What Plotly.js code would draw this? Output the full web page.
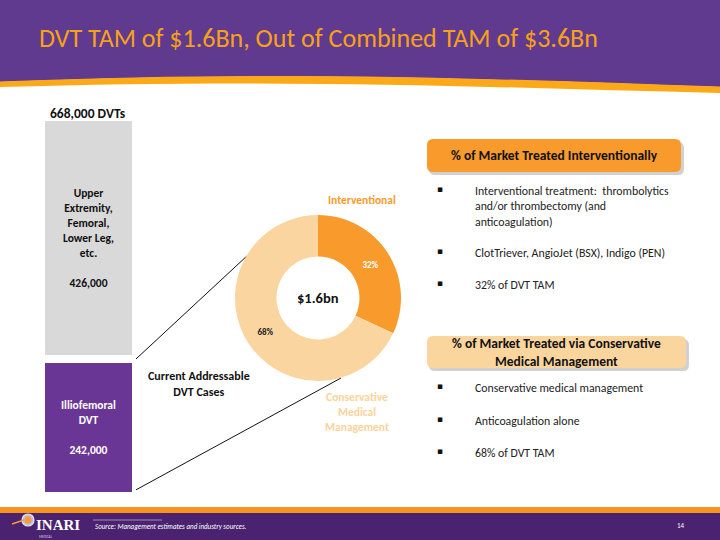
<!DOCTYPE html>
<html><head><meta charset="utf-8">
<script src="https://cdn.plot.ly/plotly-3.0.1.min.js"></script>
<style>html,body{margin:0;padding:0;background:#fff}#chart{width:720px;height:540px}</style>
</head><body><div id="chart"></div>
<script>
// ---- data ----
const segmentLabels = ['Illiofemoral<br>DVT', 'Upper<br>Extremity,<br>Femoral,<br>Lower Leg,<br>etc.'];
const segmentCases = [242000, 426000];
const segmentColors = ['#6A3696', '#D9D9D9'];
const segmentTextColors = ['#FFFFFF', '#111111'];
const treatLabels = ['Interventional', 'Conservative<br>Medical<br>Management'];
const treatShares = [32, 68];
const treatColors = ['#F89B2C', '#FBD5A0'];
const tamLabel = '$1.6bn';
const titleText = 'DVT TAM of $1.6Bn, Out of Combined TAM of $3.6Bn';
const box1Title = '% of Market Treated Interventionally';
const box1Bullets = ['Interventional treatment:  thrombolytics<br>and/or thrombectomy (and<br>anticoagulation)', 'ClotTriever, AngioJet (BSX), Indigo (PEN)', '32% of DVT TAM'];
const box2Title = '% of Market Treated via Conservative<br>Medical Management';
const box2Bullets = ['Conservative medical management', 'Anticoagulation alone', '68% of DVT TAM'];
const sourceText = 'Source: Management estimates and industry sources.';
const pageNum = '14';

// ---- helpers ----
const W = 720, H = 540;
const px = x => x / W, py = y => 1 - y / H;
const P = (x, y) => px(x).toFixed(5) + ',' + py(y).toFixed(5);
const FONT = 'Carlito, Lato, sans-serif';
const fmt = v => v.toLocaleString('en-US');
function roundRect(x0, y0, x1, y1, r) {
  return 'M' + P(x0 + r, y0) + ' L' + P(x1 - r, y0) + ' Q' + P(x1, y0) + ' ' + P(x1, y0 + r) +
    ' L' + P(x1, y1 - r) + ' Q' + P(x1, y1) + ' ' + P(x1 - r, y1) +
    ' L' + P(x0 + r, y1) + ' Q' + P(x0, y1) + ' ' + P(x0, y1 - r) +
    ' L' + P(x0, y0 + r) + ' Q' + P(x0, y0) + ' ' + P(x0 + r, y0) + ' Z';
}

const total = segmentCases.reduce((a, b) => a + b, 0);
// bar axis geometry (pixels)
const barX0 = 41, barX1 = 136, barYTop = 117, barYBot = 496, gap = 4;
// pixel row where the purple bar's visible top sits (from the data split)
const splitPx = barYBot - (segmentCases[0] / total) * (barYBot - barYTop) + gap;

const traces = segmentCases.map((v, i) => ({
  type: 'bar', x: [0], y: [v], width: [1],
  marker: {color: segmentColors[i], line: {color: '#FFFFFF', width: 2 * gap}},
  text: [segmentLabels[i] + '<br><br>' + fmt(v)],
  textposition: 'inside', insidetextanchor: 'middle', constraintext: 'none',
  textfont: {family: FONT, size: 11.5, color: segmentTextColors[i], weight: 'bold'},
  hoverinfo: 'skip', showlegend: false, xaxis: 'x', yaxis: 'y'
}));

traces.push({
  type: 'pie', values: treatShares, labels: treatLabels, sort: false, direction: 'clockwise', rotation: 0,
  hole: 0.5, marker: {colors: treatColors},
  texttemplate: '%{percent:.0%}', textposition: 'inside', insidetextorientation: 'horizontal',
  textfont: {family: FONT, size: 9, color: ['#FFFFFF', '#222222'], weight: 'bold'},
  domain: {x: [px(235), px(401)], y: [py(381), py(215)]},
  hoverinfo: 'skip', showlegend: false
});

const shapes = [
  // header
  {type: 'path', xref: 'paper', yref: 'paper', layer: 'below', line: {width: 0}, fillcolor: '#5F3A8E',
   path: 'M' + P(0, 0) + ' L' + P(720, 0) + ' L' + P(720, 87) + ' C' + P(500, 80) + ' ' + P(300, 70) + ' ' + P(0, 82) + ' Z'},
  {type: 'path', xref: 'paper', yref: 'paper', layer: 'below', line: {width: 0}, fillcolor: '#FBA919',
   path: 'M' + P(0, 81.5) + ' C' + P(300, 69.5) + ' ' + P(500, 79.5) + ' ' + P(720, 86.5) + ' L' + P(720, 93) + ' C' + P(500, 88) + ' ' + P(300, 78) + ' ' + P(0, 87) + ' Z'},
  // footer
  {type: 'rect', xref: 'paper', yref: 'paper', layer: 'below', line: {width: 0}, fillcolor: '#F7941D',
   x0: 0, x1: 1, y0: py(513), y1: py(507)},
  {type: 'rect', xref: 'paper', yref: 'paper', layer: 'below', line: {width: 0}, fillcolor: '#4A2270',
   x0: 0, x1: 1, y0: 0, y1: py(513)},
  {type: 'line', xref: 'paper', yref: 'paper', line: {color: '#B9A6CF', width: 0.8},
   x0: px(93), x1: px(162), y0: py(520), y1: py(520)},
  // logo emblem
  {type: 'circle', xref: 'paper', yref: 'paper', line: {color: '#E9E2F0', width: 1.2}, fillcolor: '#C9B8DA',
   x0: px(22), x1: px(34), y0: py(526), y1: py(514)},
  {type: 'circle', xref: 'paper', yref: 'paper', line: {width: 0}, fillcolor: '#F29B3B',
   x0: px(24.5), x1: px(31.5), y0: py(523.5), y1: py(516.5)},
  {type: 'line', xref: 'paper', yref: 'paper', line: {color: '#F29B3B', width: 1.5},
   x0: px(12), x1: px(24), y0: py(524), y1: py(520)},
  // connector lines (from bar corners to donut)
  {type: 'line', xref: 'paper', yref: 'paper', layer: 'below', line: {color: '#111', width: 1},
   x0: px(barX1 - gap), y0: py(splitPx), x1: px(262), y1: py(242)},
  {type: 'line', xref: 'paper', yref: 'paper', layer: 'below', line: {color: '#111', width: 1},
   x0: px(barX1 - gap), y0: py(barYBot - gap), x1: px(341), y1: py(378)},
  // box shadows + boxes
  {type: 'path', xref: 'paper', yref: 'paper', layer: 'below', line: {width: 0}, fillcolor: 'rgba(0,0,0,0.18)',
   path: roundRect(429, 142, 684, 175, 6)},
  {type: 'path', xref: 'paper', yref: 'paper', layer: 'below', line: {width: 0}, fillcolor: '#F89B2C',
   path: roundRect(427, 139, 681, 172, 6)},
  {type: 'path', xref: 'paper', yref: 'paper', layer: 'below', line: {width: 0}, fillcolor: 'rgba(0,0,0,0.18)',
   path: roundRect(429, 339, 689, 371, 6)},
  {type: 'path', xref: 'paper', yref: 'paper', layer: 'below', line: {width: 0}, fillcolor: '#FBD59E',
   path: roundRect(427, 336, 686, 368, 6)}
];

const ann = (x, y, text, o) => Object.assign({xref: 'paper', yref: 'paper', x: px(x), y: py(y), text: text,
  xanchor: 'center', yanchor: 'middle',
  showarrow: false, font: {family: FONT, size: 11, color: '#222'}}, o || {});

const annotations = [
  ann(37, 38, titleText, {xanchor: 'left', font: {family: FONT, size: 26, color: '#F7A11A'}}),
  ann(88, 113, fmt(total) + ' DVTs', {font: {family: FONT, size: 13.5, color: '#111', weight: 'bold'}}),
  ann(199, 384, 'Current Addressable<br>DVT Cases', {font: {family: FONT, size: 12, color: '#111', weight: 'bold'}}),
  ann(318, 298, tamLabel, {font: {family: FONT, size: 14.5, color: '#111', weight: 'bold'}}),
  ann(362, 200, treatLabels[0], {font: {family: FONT, size: 11.5, color: treatColors[0], weight: 'bold'}}),
  ann(357, 412, treatLabels[1], {font: {family: FONT, size: 11.5, color: '#FBD39A', weight: 'bold'}}),
  ann(554, 156, box1Title, {font: {family: FONT, size: 13.5, color: '#111', weight: 'bold'}}),
  ann(556, 352, box2Title, {font: {family: FONT, size: 13.5, color: '#111', weight: 'bold'}}),
  ann(93, 526, sourceText, {xanchor: 'left', font: {family: FONT, size: 7, color: '#FFFFFF', style: 'italic'}}),
  ann(681, 525, pageNum, {font: {family: FONT, size: 7, color: '#FFFFFF'}}),
  ann(34, 524.5, 'INARI', {xanchor: 'left', font: {family: 'Liberation Serif, serif', size: 15, color: '#FFFFFF', weight: 'bold'}}),
  ann(37, 536.5, 'MEDICAL', {xanchor: 'left', font: {family: FONT, size: 3.5, color: '#D8CCE4'}})
];
const b1y = [182, 244, 276], b2y = [379, 412, 444];
box1Bullets.forEach((t, i) => {
  annotations.push(ann(440, b1y[i] + 7, '▪', {font: {family: 'DejaVu Sans', size: 9, color: '#111'}}));
  annotations.push(ann(473, b1y[i], t, {xanchor: 'left', yanchor: 'top', align: 'left', font: {family: FONT, size: 11.8, color: '#222'}}));
});
box2Bullets.forEach((t, i) => {
  annotations.push(ann(440, b2y[i] + 7, '▪', {font: {family: 'DejaVu Sans', size: 9, color: '#111'}}));
  annotations.push(ann(473, b2y[i], t, {xanchor: 'left', yanchor: 'top', align: 'left', font: {family: FONT, size: 11.8, color: '#222'}}));
});

const layout = {
  width: W, height: H, margin: {l: 0, r: 0, t: 0, b: 0},
  paper_bgcolor: '#FFFFFF', plot_bgcolor: 'rgba(0,0,0,0)',
  barmode: 'stack', showlegend: false,
  xaxis: {domain: [px(barX0), px(barX1)], range: [-0.5, 0.5], visible: false, fixedrange: true},
  yaxis: {domain: [py(barYBot), py(barYTop)], range: [0, total], visible: false, fixedrange: true},
  shapes: shapes, annotations: annotations,
  font: {family: FONT}
};

Plotly.newPlot('chart', traces, layout, {displayModeBar: false, staticPlot: true});
</script></body></html>
